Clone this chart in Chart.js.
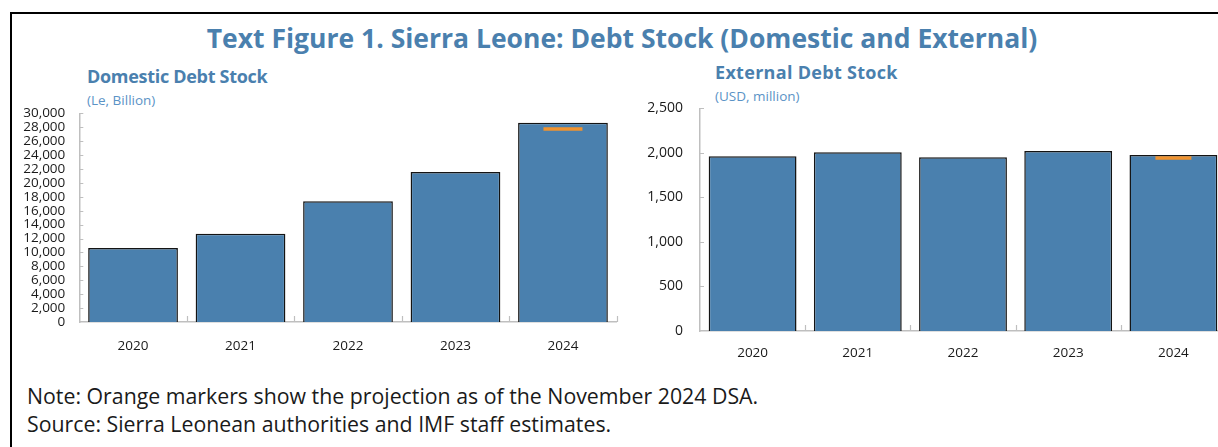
<!DOCTYPE html>
<html>
<head>
<meta charset="utf-8">
<title>Sierra Leone: Debt Stock</title>
<script src="https://cdn.jsdelivr.net/npm/chart.js@4/dist/chart.umd.min.js"></script>
<style>
  html, body { margin: 0; padding: 0; background: #fff; }
  body { width: 1218px; height: 447px; overflow: hidden; position: relative; font-family: 'Open Sans', 'Noto Sans', sans-serif; }
  .frame { position: absolute; left: 10px; top: 12px; width: 1300px; height: 500px; border: 2px solid #000; }
  .title { position: absolute; left: 622px; top: 25px; transform: translateX(-50%); white-space: nowrap;
           font-size: 26.5px; line-height: 26.5px; font-weight: 700; color: #4a80ae; }
  .panel-title { position: absolute; white-space: nowrap; font-size: 18px; line-height: 18px; font-weight: 700; color: #4a80ae; }
  .panel-unit { position: absolute; white-space: nowrap; font-size: 13.5px; line-height: 13.5px; color: #5b93c6; }
  .note { position: absolute; left: 27px; white-space: nowrap; font-size: 21.3px; line-height: 21.3px; color: #1a1a1a; }
  canvas { position: absolute; }
</style>
</head>
<body>
<div class="frame"></div>
<div class="title">Text Figure 1. Sierra Leone: Debt Stock (Domestic and External)</div>

<div class="panel-title" style="left:87px; top:67px; letter-spacing:-0.3px;">Domestic Debt Stock</div>
<div class="panel-unit" style="left:87px; top:94px;">(Le, Billion)</div>
<div class="panel-title" style="left:715px; top:63px; letter-spacing:0.3px;">External Debt Stock</div>
<div class="panel-unit" style="left:715px; top:90px;">(USD, million)</div>

<canvas id="domesticChart" width="647" height="287" style="left:0; top:83px;"></canvas>
<canvas id="externalChart" width="616" height="292" style="left:640px; top:78px;"></canvas>

<div class="note" style="top:385px;">Note: Orange markers show the projection as of the November 2024 DSA.</div>
<div class="note" style="top:413px;">Source: Sierra Leonean authorities and IMF staff estimates.</div>

<script>
// Years on the category axis
const years = ['2020', '2021', '2022', '2023', '2024'];

// Domestic debt stock, Le billion
const domesticDebt = [10620, 12670, 17370, 21570, 28650];
// November 2024 DSA projection (2024 only)
const domesticProjection = [null, null, null, null, 27750];
const domesticAxis = { min: 0, max: 30000, step: 2000 };

// External debt stock, USD million
const externalDebt = [1962, 2006, 1951, 2021, 1977];
const externalProjection = [null, null, null, null, 1943];
const externalAxis = { min: 0, max: 2500, step: 500 };

const BAR_BLUE = '#4a80ae';
const MARK_ORANGE = '#f0932f';
const AXIS_GREY = '#bfbfbf';

// short tick marks drawn inward from both axes
const innerTicks = {
  id: 'innerTicks',
  afterDatasetsDraw(chart) {
    const { ctx, scales: { x, y }, chartArea } = chart;
    ctx.save();
    ctx.strokeStyle = AXIS_GREY;
    ctx.lineWidth = 1.2;
    ctx.beginPath();
    y.ticks.forEach((t, i) => {
      if (i === 0) return;
      const py = Math.round(y.getPixelForTick(i)) + 0.5;
      ctx.moveTo(chartArea.left, py);
      ctx.lineTo(chartArea.left + 4, py);
    });
    const n = chart.data.labels.length;
    const half = (x.getPixelForValue(1) - x.getPixelForValue(0)) / 2;
    for (let i = 0; i < n; i++) {
      const px = Math.round(x.getPixelForValue(i) + half) + 0.5;
      ctx.moveTo(px, chartArea.bottom);
      ctx.lineTo(px, chartArea.bottom - 6);
    }
    ctx.stroke();
    ctx.restore();
  }
};

function makeChart(el, values, projection, axis, box) {
  return new Chart(el, {
    type: 'bar',
    data: {
      labels: years,
      datasets: [
        {
          type: 'line',
          data: projection,
          showLine: false,
          pointStyle: 'line',
          pointRadius: box.markHalf,
          pointHoverRadius: box.markHalf,
          pointBorderWidth: 3.5,
          pointBorderColor: MARK_ORANGE,
          borderColor: MARK_ORANGE,
          order: 0
        },
        {
          data: values,
          backgroundColor: BAR_BLUE,
          borderColor: '#141414',
          borderWidth: 1.5,
          borderSkipped: 'start',
          categoryPercentage: 1,
          barPercentage: 0.835,
          order: 1
        }
      ]
    },
    options: {
      responsive: false,
      animation: false,
      layout: { padding: { left: 0, right: box.padRight, top: box.padTop, bottom: 0 } },
      plugins: { legend: { display: false }, tooltip: { enabled: false } },
      scales: {
        x: {
          offset: true,
          grid: { display: false, drawTicks: false },
          border: { display: true, color: AXIS_GREY, width: 1.5 },
          ticks: { color: '#1a1a1a', font: { family: 'Open Sans', size: 13.5 }, padding: box.xPad, maxRotation: 0 },
          afterFit: (s) => { s.height = box.xHeight; }
        },
        y: {
          min: axis.min,
          max: axis.max,
          grid: { display: false, drawTicks: false },
          border: { display: true, color: AXIS_GREY, width: 1.5 },
          ticks: {
            stepSize: axis.step,
            autoSkip: false,
            color: '#1a1a1a',
            font: { family: 'Open Sans', size: box.yFont },
            padding: box.yPad,
            callback: (v) => Number(v).toLocaleString('en-US')
          },
          afterFit: (s) => { s.width = box.yWidth; }
        }
      }
    },
    plugins: [innerTicks]
  });
}

makeChart(document.getElementById('domesticChart'), domesticDebt, domesticProjection, domesticAxis,
  { padRight: 30.3, padTop: 30.3, xHeight: 48, yWidth: 79.3, yPad: 14, xPad: 16, yFont: 13.5, markHalf: 19.5 });

makeChart(document.getElementById('externalChart'), externalDebt, externalProjection, externalAxis,
  { padRight: 30, padTop: 30.3, xHeight: 39, yWidth: 60, yPad: 17, xPad: 14, yFont: 14, markHalf: 18 });
</script>
</body>
</html>
